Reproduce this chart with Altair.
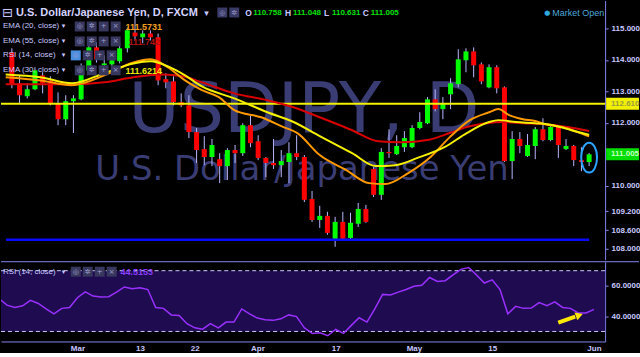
import altair as alt
import pandas as pd

# ---------------- data (USD/JPY daily, FXCM) ----------------
opens = [114.24, 113.26, 112.85, 113.07, 113.51, 113.35, 112.63, 112.12, 112.69, 112.75,
         113.67, 114.40, 113.83, 113.86, 113.96, 114.37, 114.87, 114.72, 114.84, 114.72,
         113.39, 113.32, 112.66, 112.56, 111.71, 111.17, 110.92, 110.85, 110.63, 111.14,
         111.04, 111.93, 111.42, 110.89, 110.73, 110.66, 110.76, 111.04, 110.92, 109.59,
         108.92, 109.05, 108.32, 108.86, 108.35, 108.80, 109.27, 110.54, 109.72, 111.08,
         111.01, 111.23, 111.23, 111.84, 111.99, 112.75, 112.44, 112.91, 113.23, 113.99,
         114.27, 113.86, 113.13, 113.77, 113.13, 110.79, 111.49, 110.95, 111.27, 111.80,
         111.46, 111.87, 111.17, 111.27, 110.82, 110.758]
highs = [114.37, 113.51, 113.26, 113.77, 113.61, 113.48, 112.97, 112.88, 112.88, 113.89,
         114.62, 114.56, 114.15, 114.24, 114.56, 115.03, 115.41, 114.94, 114.94, 114.84,
         113.58, 113.48, 112.94, 112.88, 111.84, 111.58, 111.49, 111.04, 111.20, 111.30,
         111.99, 112.22, 111.61, 110.92, 111.49, 111.14, 111.39, 111.61, 110.98, 109.84,
         109.37, 109.18, 109.02, 109.18, 109.15, 109.46, 109.40, 110.60, 111.20, 111.80,
         111.61, 111.74, 111.93, 112.34, 112.82, 113.07, 112.82, 113.42, 114.34, 114.37,
         114.40, 113.92, 113.86, 113.83, 113.16, 111.74, 111.71, 111.65, 111.87, 112.15,
         111.90, 111.90, 111.49, 111.30, 111.23, 111.048]
lows = [113.10, 112.63, 112.78, 113.04, 112.94, 112.56, 111.93, 111.93, 111.68, 112.72,
        113.61, 113.92, 113.61, 113.61, 113.89, 114.24, 114.62, 114.53, 114.62, 113.20,
        113.10, 112.56, 112.50, 111.52, 110.73, 110.66, 110.63, 110.09, 110.19, 110.73,
        110.95, 111.23, 110.82, 110.28, 110.54, 110.28, 110.09, 110.82, 109.49, 108.86,
        108.67, 108.45, 108.07, 108.29, 108.29, 108.70, 108.83, 109.65, 109.56, 110.89,
        110.98, 111.08, 111.20, 111.80, 111.96, 112.37, 112.12, 112.44, 113.13, 113.61,
        113.45, 113.23, 113.10, 112.94, 110.76, 110.22, 111.04, 110.92, 110.85, 111.42,
        111.42, 110.89, 111.14, 110.63, 110.47, 110.631]
closes = [113.23, 112.88, 113.07, 113.67, 113.26, 112.63, 112.12, 112.69, 112.78, 113.73,
          114.40, 114.02, 113.89, 113.99, 114.37, 114.94, 114.75, 114.84, 114.72, 113.35,
          113.29, 112.66, 112.56, 111.71, 111.14, 110.92, 111.30, 110.63, 111.14, 111.04,
          111.93, 111.36, 110.89, 110.73, 110.66, 110.79, 111.04, 110.92, 109.56, 108.92,
          109.05, 108.51, 108.86, 108.32, 108.83, 109.27, 108.86, 109.72, 111.08, 111.04,
          111.27, 111.52, 111.84, 112.03, 112.75, 112.44, 112.63, 113.26, 114.02, 114.27,
          113.83, 113.32, 113.77, 113.10, 110.79, 111.49, 111.27, 111.30, 111.80, 111.46,
          111.87, 111.30, 111.27, 110.82, 110.76, 111.005]

# RSI(14) values, first one belongs to the bar just left of the window (index -1)
rsi_vals = [51.6, 47.3, 45.8, 46.9, 50.5, 48.4, 44.8, 41.6, 45.2, 45.8, 52.2,
            56.1, 53.3, 52.7, 52.9, 55.9, 59.3, 58.2, 58.7, 57.6, 45.8,
            45.2, 40.9, 40.5, 35.1, 32.4, 31.5, 35.1, 32.4, 36.2, 36.2,
            44.8, 41.6, 38.8, 37.7, 37.3, 38.3, 40.9, 39.8, 32.4, 28.7,
            29.1, 27.2, 31.3, 28.7, 34.0, 39.0, 36.2, 44.8, 54.4, 54.0,
            55.9, 57.6, 59.7, 60.4, 65.5, 62.9, 63.4, 67.2, 70.9, 72.1,
            67.2, 61.9, 64.0, 57.6, 41.6, 46.5, 45.2, 45.4, 49.0, 46.9,
            49.5, 45.8, 45.2, 42.2, 42.2, 44.52]

ema20_idx = [-0.8, 3.7, 7.8, 12.0, 15.8, 18.0, 20.5, 22.5, 24.7, 26.9, 28.9, 32.4, 35.3,
             37.1, 40.0, 43.4, 46.4, 48.5, 51.5, 54.4, 56.9, 59.5, 62.0, 63.2, 64.6, 66.4,
             68.0, 69.3, 71.5, 73.5, 75.0]
ema20 = [113.45, 113.35, 113.20, 113.51, 113.92, 114.02, 113.73, 113.35, 113.04, 112.82,
         112.41, 112.18, 111.87, 111.68, 110.98, 110.51, 110.09, 110.06, 110.41, 110.92,
         111.55, 112.09, 112.34, 112.44, 112.25, 112.12, 112.06, 111.96, 111.87, 111.71,
         111.573]
ema30_idx = [-0.8, 3.7, 7.8, 12.0, 15.8, 18.0, 20.5, 22.5, 24.7, 28.9, 33.2, 36.6, 40.0,
             44.2, 47.3, 49.8, 52.7, 56.2, 59.1, 62.0, 63.2, 65.5, 68.0, 70.3, 72.7, 75.0]
ema30 = [113.54, 113.45, 113.26, 113.58, 113.89, 113.96, 113.77, 113.51, 113.16, 112.78,
         112.34, 112.03, 111.58, 111.04, 110.63, 110.66, 110.89, 111.23, 111.68, 112.03,
         112.09, 112.03, 111.99, 111.93, 111.77, 111.621]
ema55_idx = [-0.8, 3.7, 7.8, 12.0, 15.8, 19.6, 22.2, 24.7, 28.9, 33.2, 36.6, 40.0, 44.2,
             47.6, 50.6, 54.0, 56.9, 59.1, 61.7, 63.8, 66.4, 69.3, 72.2, 75.0]
ema55 = [113.23, 113.23, 113.23, 113.29, 113.45, 113.54, 113.48, 113.29, 112.94, 112.72,
         112.50, 112.18, 111.77, 111.42, 111.39, 111.46, 111.68, 111.87, 111.99, 112.03,
         111.99, 111.96, 111.87, 111.742]

resistance = 112.610
support = 108.29
last_close = 111.005

tick_idx = [9, 17, 24, 32, 42, 52, 62, 75]
tick_lbl = ["Mar", "13", "22", "Apr", "17", "May", "15", "Jun"]
y_ticks = [115, 114, 113, 112, 110, 109.2, 108.6, 108]
rsi_ticks = [60, 40]
ohlc_names = ["O", "H", "L", "C"]
ohlc_vals = ["110.758", "111.048", "110.631", "111.005"]
ind_names = ["EMA (20, close)", "EMA (55, close)", "RSI (14, close)", "EMA (30, close)"]
ind_vals = ["111.5731", "111.742", None, "111.6214"]
rsi_value_txt = "44.5153"

# ---------------- style ----------------
W, H1, H2 = 606, 260, 80
X_DOM = [-0.764, 76.43]
Y_DOM = [107.658, 115.886]
R_DOM = [23.4, 75.9]
AX = "#8484f0"
LBL = "#c8c8ff"
GREEN = "#00ff00"
RED = "#ff0000"
FONT = "Liberation Sans"
WM = "#3a3d74"


def ypix(p):
    return (Y_DOM[1] - p) / (Y_DOM[1] - Y_DOM[0]) * H1


ONE = alt.Data(values=[{"a": 1}])


def txt(s, x, y, color=LBL, size=9, weight="normal", align="left", font=FONT, baseline="middle"):
    return alt.Chart(ONE).mark_text(text=s, color=color, fontSize=size, fontWeight=weight,
                                    align=align, baseline=baseline, font=font).encode(
        x=alt.value(x), y=alt.value(y))


def box(x1, y1, x2, y2, fill, stroke=None):
    kw = dict(fill=fill)
    if stroke:
        kw.update(stroke=stroke, strokeWidth=1)
    return alt.Chart(ONE).mark_rect(**kw).encode(
        x=alt.value(x1), x2=alt.value(x2), y=alt.value(y1), y2=alt.value(y2))


xs = alt.Scale(domain=X_DOM, nice=False, zero=False)
ys = alt.Scale(domain=Y_DOM, nice=False, zero=False)
rs = alt.Scale(domain=R_DOM, nice=False, zero=False)

y_axis = alt.Axis(orient="right", values=y_ticks, format=".3f", title=None, grid=False,
                  labelColor=LBL, labelFont=FONT, labelFontSize=8, labelFontWeight="bold",
                  domainColor=AX, tickColor=AX, tickSize=3, labelPadding=3)
r_axis = alt.Axis(orient="right", values=rsi_ticks, format=".4f", title=None, grid=False,
                  labelColor=LBL, labelFont=FONT, labelFontSize=8, labelFontWeight="bold",
                  domainColor=AX, tickColor=AX, tickSize=3, labelPadding=3)
expr = " : ".join(f"datum.value == {i} ? '{l}'" for i, l in zip(tick_idx, tick_lbl)) + " : ''"
x_axis = alt.Axis(values=tick_idx, labelExpr=expr, title=None, grid=False, ticks=False,
                  domainColor=AX, labelColor=LBL, labelFont=FONT, labelFontSize=8,
                  labelFontWeight="bold", labelPadding=3, labelFlush=False,
                  labelOverlap=False)

XN = alt.X("idx:Q", scale=xs, axis=None)


def YP(field):
    return alt.Y(field, scale=ys, axis=y_axis)


def YR(field):
    return alt.Y(field, scale=rs, axis=r_axis)


cdf = pd.DataFrame({"idx": list(range(len(opens))), "open": opens, "high": highs,
                    "low": lows, "close": closes})
cdf["dir"] = ["up" if c >= o else "down" for o, c in zip(opens, closes)]

layers = []
# watermark
layers.append(txt("USDJPY, D", 304, 132, color=WM, size=70, align="center",
                  font="DejaVu Sans", baseline="alphabetic"))
layers.append(txt("U.S. Dollar/Japanese Yen", 302, 180, color=WM, size=34, align="center",
                  font="DejaVu Sans", baseline="alphabetic"))

wicks = alt.Chart(cdf).mark_rule(color="#b8b8ff", strokeWidth=1).encode(
    x=XN, y=YP("low:Q"), y2="high:Q")
bodies = alt.Chart(cdf).mark_bar(width=5).encode(
    x=XN, y=YP("open:Q"), y2="close:Q",
    color=alt.Color("dir:N", scale=alt.Scale(domain=["up", "down"], range=[GREEN, RED]),
                    legend=None))
layers += [wicks, bodies]

res_line = alt.Chart(pd.DataFrame({"p": [resistance]})).mark_rule(
    color="#f2f200", strokeWidth=2).encode(
    y=YP("p:Q"), x=alt.value(0), x2=alt.value(W))
sup_line = alt.Chart(pd.DataFrame({"p": [support], "x0": [X_DOM[0]], "x1": [75]})).mark_rule(
    color="#0a0aff", strokeWidth=2.5).encode(
    y=YP("p:Q"), x=alt.X("x0:Q", scale=xs, axis=None), x2="x1:Q")
layers += [res_line, sup_line]


def ma_line(idx, vals, color):
    d = pd.DataFrame({"idx": idx, "v": vals})
    return alt.Chart(d).mark_line(color=color, strokeWidth=2, interpolate="monotone",
                                  clip=True).encode(x=XN, y=YP("v:Q"))


layers += [ma_line(ema55_idx, ema55, "#d80000"),
           ma_line(ema20_idx, ema20, "#ff9900"),
           ma_line(ema30_idx, ema30, "#f5ef00")]

# highlight of last candle
ell = "M -0.53 0 A 0.53 1 0 1 1 0.53 0 A 0.53 1 0 1 1 -0.53 0 Z"
layers.append(alt.Chart(pd.DataFrame({"idx": [75], "p": [110.9]})).mark_point(
    shape=ell, size=900, filled=False, stroke="#2aa4ff", strokeWidth=2, opacity=1).encode(
    x=XN, y=YP("p:Q")))

# price tags on the axis
yr = ypix(resistance)
layers.append(box(607, yr - 6, 640, yr + 6, "#f2f200"))
layers.append(txt(f"{resistance:.3f}", 612, yr, color="#9a9a40", size=8, weight="bold"))
yc = ypix(last_close)
layers.append(box(607, yc - 6, 640, yc + 6, "#00dd00"))
layers.append(txt(f"{last_close:.3f}", 612, yc, color="#c8ffc8", size=8, weight="bold"))

# header
layers.append(txt("⊟", 1, 12, color=LBL, size=13, font="DejaVu Sans"))
layers.append(txt("U.S. Dollar/Japanese Yen, D, FXCM", 15, 12, color="#d4d4ff", size=11,
                  weight="bold"))
layers.append(txt("▾", 204, 12, color=LBL, size=9, font="DejaVu Sans"))
layers.append(box(217, 7, 227, 17, "#3a3a66"))
layers.append(box(229, 7, 239, 17, "#3a3a66"))
layers.append(txt("◎", 222, 12, color="#9a9ac8", size=7, align="center", font="DejaVu Sans"))
layers.append(txt("✲", 234, 12, color="#9a9ac8", size=7, align="center", font="DejaVu Sans"))
ox = [245, 285, 324, 363]
for k in range(4):
    layers.append(txt(ohlc_names[k], ox[k], 12, color=LBL, size=8.5, weight="bold"))
    layers.append(txt(ohlc_vals[k], ox[k] + 8, 12, color="#00e000", size=8, weight="bold"))
layers.append(txt("●", 545, 12, color="#2fa8e0", size=7, font="DejaVu Sans"))
layers.append(txt("Market Open", 553, 12, color="#4aa8d8", size=9))

row_y = [26, 41, 55, 70]
glyphs = ["◎", "✲", "+", "×"]
val_colors = ["#f0a020", "#b01010", None, "#e8e800"]
val_x = [125, 128, None, 125]
for r in range(4):
    y = row_y[r]
    layers.append(txt(ind_names[r], 2, y, color=LBL, size=8))
    layers.append(txt("▾", 61, y, color=LBL, size=7, font="DejaVu Sans"))
    bx = [70, 82, 94, 106] if r == 2 else [74, 86, 98, 110]
    for k in range(4):
        fill = "#4a8ee0" if (r == 2 and k == 0) else "#38385f"
        layers.append(box(bx[k], y - 5, bx[k] + 10, y + 5, fill))
        layers.append(txt(glyphs[k], bx[k] + 5, y, color="#a0a0d0", size=7, align="center",
                          font="DejaVu Sans"))
    if ind_vals[r]:
        layers.append(txt(ind_vals[r], val_x[r], y + 1, color=val_colors[r], size=9,
                          weight="bold"))

price = alt.layer(*layers).properties(width=W, height=H1)

# ---------------- RSI panel ----------------
rl = []
rl.append(alt.Chart(pd.DataFrame({"a": [70], "b": [30]})).mark_rect(color="#1f0c50").encode(
    y=YR("a:Q"), y2="b:Q", x=alt.value(0), x2=alt.value(W)))
rl.append(alt.Chart(pd.DataFrame({"v": [70, 30]})).mark_rule(
    color="#c8c8ff", strokeWidth=1, strokeDash=[4, 3]).encode(
    y=YR("v:Q"), x=alt.value(0), x2=alt.value(W)))
rdf = pd.DataFrame({"idx": list(range(-1, -1 + len(rsi_vals))), "rsi": rsi_vals})
rl.append(alt.Chart(rdf).mark_line(color="#9a30ff", strokeWidth=1.5, clip=True).encode(
    x=alt.X("idx:Q", scale=xs, axis=x_axis), y=YR("rsi:Q")))
rl.append(alt.Chart(ONE).mark_rule(color=AX, strokeWidth=1).encode(
    x=alt.value(0), x2=alt.value(640), y=alt.value(0)))
# arrow annotation
rl.append(alt.Chart(ONE).mark_rule(color="#ffe800", strokeWidth=4).encode(
    x=alt.value(559), x2=alt.value(576), y=alt.value(61), y2=alt.value(55)))
rl.append(alt.Chart(ONE).mark_point(shape="triangle", size=70, filled=True, color="#ffe800",
                                    opacity=1, angle=70).encode(
    x=alt.value(579), y=alt.value(54)))
# legend row
rl.append(txt("RSI (14, close)", 2, 10, color=LBL, size=8))
rl.append(txt("▾", 61, 10, color=LBL, size=7, font="DejaVu Sans"))
for k, bx in enumerate([70, 82, 94, 106]):
    rl.append(box(bx, 5, bx + 10, 15, "#38385f"))
    rl.append(txt(glyphs[k], bx + 5, 10, color="#a0a0d0", size=7, align="center",
                  font="DejaVu Sans"))
rl.append(txt(rsi_value_txt, 120, 10, color="#8a3cff", size=9, weight="bold"))

rsi = alt.layer(*rl).properties(width=W, height=H2)

chart = alt.vconcat(price, rsi, spacing=1).configure(
    background="black", padding=0).configure_view(stroke=None)

chart.save("out.html", embed_options={"renderer": "svg", "actions": False})
